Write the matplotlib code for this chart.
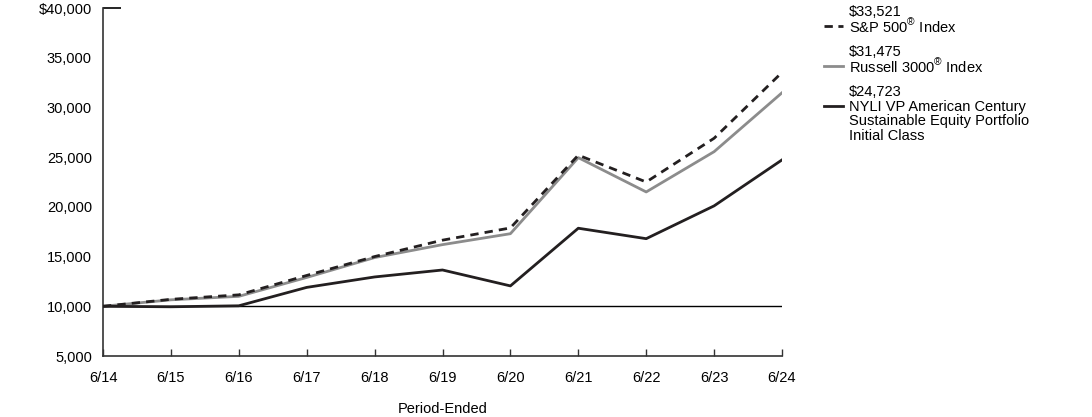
import matplotlib
matplotlib.use("Agg")
import matplotlib.pyplot as plt
from matplotlib.lines import Line2D
from matplotlib.ticker import FuncFormatter

plt.rcParams['font.family'] = ['Liberation Sans', 'DejaVu Sans']
plt.rcParams['mathtext.fontset'] = 'custom'
plt.rcParams['mathtext.rm'] = 'Liberation Sans'

periods = ["6/14", "6/15", "6/16", "6/17", "6/18", "6/19", "6/20", "6/21", "6/22", "6/23", "6/24"]
sp500 = [10000, 10700, 11150, 13100, 15000, 16650, 17880, 25200, 22500, 26900, 33521]
russell = [10000, 10650, 11000, 12900, 14900, 16200, 17300, 24950, 21500, 25550, 31475]
fund = [10000, 9950, 10050, 11900, 12950, 13650, 12050, 17850, 16800, 20100, 24723]
yticks = [5000, 10000, 15000, 20000, 25000, 30000, 35000, 40000]

FS = 10.5

fig = plt.figure(figsize=(10.92, 4.17), dpi=100)
ax = fig.add_axes([103/1092, 1-356/417, (782-103)/1092, (356-8)/417])

x = list(range(len(periods)))
ax.axhline(10000, color='black', lw=1.0, zorder=1)
ax.plot(x, russell, color='#8c8c8c', lw=2.0, zorder=2)
ax.plot(x, sp500, color='#231f20', lw=2.0, ls=(0, (3, 2.2)), zorder=3)
ax.plot(x, fund, color='#231f20', lw=2.0, zorder=4)

ax.set_xlim(0, len(periods)-1)
ax.set_ylim(5000, 40000)
ax.set_xticks(x)
ax.set_xticklabels(periods)
ax.set_yticks(yticks)
ax.yaxis.set_major_formatter(FuncFormatter(lambda v, p: ("$%s" % format(int(v), ',')) if v == 40000 else format(int(v), ',')))

for s in ['top', 'right']:
    ax.spines[s].set_visible(False)
for s in ['left', 'bottom']:
    ax.spines[s].set_color('#333333')
    ax.spines[s].set_linewidth(1.2)

ax.tick_params(axis='x', direction='in', length=5, width=1, color='#333333', labelsize=FS, pad=11)
ax.tick_params(axis='y', direction='in', length=0, labelsize=FS, pad=8)
toptick = ax.yaxis.get_major_ticks()[-1]
toptick.tick1line.set_markersize(13)
toptick.tick1line.set_markeredgewidth(1.2)
toptick.tick1line.set_color('#333333')

ax.set_xlabel("Period-Ended", fontsize=FS, labelpad=12)

def fy(py):
    return 1 - py/417

def legend_entry(value, lines, line_py, top_py, color, ls):
    fig.add_artist(Line2D([824/1092, 843/1092], [fy(line_py), fy(line_py)], color=color, lw=2, ls=ls, transform=fig.transFigure))
    fig.text(849/1092, fy(top_py), value, fontsize=FS, va='center', ha='left')
    for i, t in enumerate(lines):
        fig.text(849/1092, fy(top_py + 14.7*(i+1)), t, fontsize=FS, va='center', ha='left')

sup = r"$^{®}$"
legend_entry("$33,521", ["S&P 500" + sup + " Index"], 26, 12, '#231f20', (0, (3, 2)))
legend_entry("$31,475", ["Russell 3000" + sup + " Index"], 66, 52, '#8c8c8c', '-')
legend_entry("$24,723", ["NYLI VP American Century", "Sustainable Equity Portfolio", "Initial Class"], 106, 92, '#231f20', '-')

fig.savefig("out.png", dpi=100)
